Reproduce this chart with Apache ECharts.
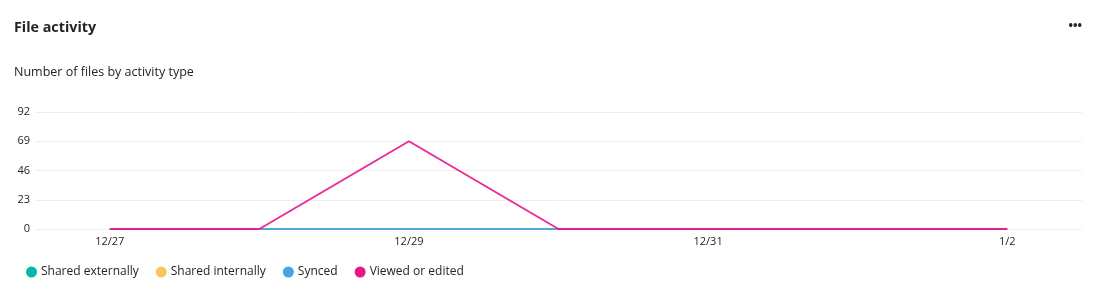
<!DOCTYPE html>
<html>
<head>
<meta charset="utf-8">
<script src="https://cdn.jsdelivr.net/npm/echarts@6/dist/echarts.min.js"></script>
<style>
html,body{margin:0;padding:0;background:#fff;}
#c{width:1097px;height:296px;}
</style>
</head>
<body>
<div id="c"></div>
<script>
const categories = ['12/27','12/28','12/29','12/30','12/31','1/1','1/2'];
const sharedExternally = [0,0,0,0,0,0,0];
const sharedInternally = [0,0,0,0,0,0,0];
const synced = [0,0,0,0,0,0,0];
const viewedOrEdited = [0,0,69,0,0,0,0];
const yTicks = [0,23,46,69,92];

const FONT = '"Open Sans", "Noto Sans", sans-serif';
const chart = echarts.init(document.getElementById('c'), null, {renderer:'canvas'});
function line(name, data, color, z){
  return {name, type:'line', data, symbol:'none', showSymbol:false, z,
    lineStyle:{width:2, color, opacity:0.9}, itemStyle:{color}, emphasis:{disabled:true}};
}
chart.setOption({
  animation:false,
  textStyle:{fontFamily:FONT},
  title:[
    {text:'File activity', left:9, top:16, textStyle:{fontSize:14.3, fontWeight:'bold', color:'#252423', fontFamily:FONT}},
    {text:'Number of files by activity type', left:9, top:61, textStyle:{fontSize:12.5, fontWeight:'normal', color:'#252423', fontFamily:FONT}},
    {text:'•••', right:10, top:16, textStyle:{fontSize:12, fontWeight:'bold', color:'#252423', fontFamily:FONT}}
  ],
  legend:{left:21, top:261, icon:'circle', itemWidth:11, itemHeight:11, itemGap:17,
    textStyle:{fontSize:12, color:'#252423', fontFamily:FONT, padding:[0,0,0,-1]},
    data:['Shared externally','Shared internally','Synced','Viewed or edited']},
  grid:{left:35, right:15, top:112, bottom:67},
  xAxis:{type:'category', data:categories, boundaryGap:true,
    axisLine:{show:false}, axisTick:{show:false},
    axisLabel:{interval:1, color:'#252423', fontSize:11, margin:7, fontFamily:FONT}},
  yAxis:{type:'value', min:yTicks[0], max:yTicks[yTicks.length-1], interval:23,
    axisLine:{show:false}, axisTick:{show:false},
    axisLabel:{color:'#252423', fontSize:11, margin:5, fontFamily:FONT},
    splitLine:{lineStyle:{color:'#eeeeee', width:1}}},
  series:[
    line('Shared externally', sharedExternally, '#01b8aa', 1),
    line('Shared internally', sharedInternally, '#fdc35c', 2),
    line('Synced', synced, '#41a4e4', 3),
    line('Viewed or edited', viewedOrEdited, '#e8168b', 4)
  ]
});
</script>
</body>
</html>
